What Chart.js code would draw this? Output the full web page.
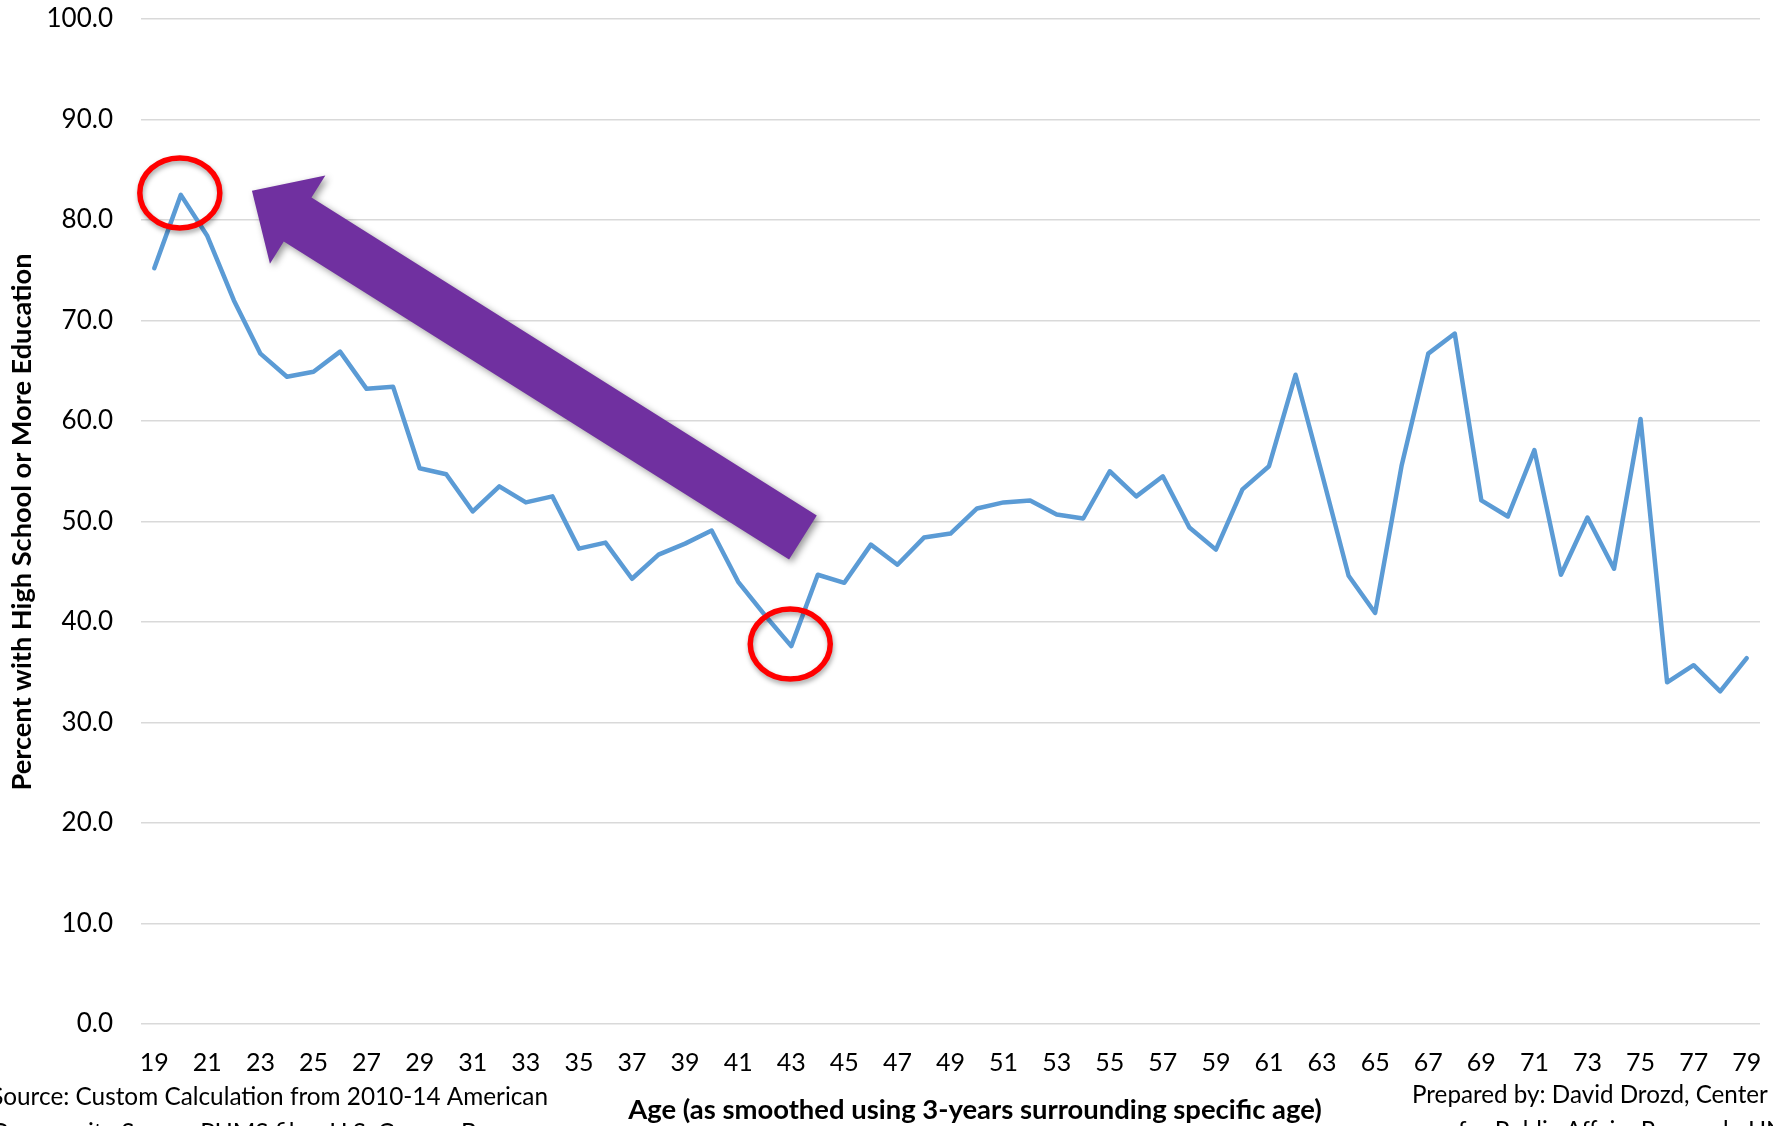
<!DOCTYPE html>
<html><head><meta charset="utf-8">
<script src="https://cdn.jsdelivr.net/npm/chart.js@4.4.1/dist/chart.umd.min.js"></script>
<style>html,body{margin:0;padding:0;background:#fff;overflow:hidden}#wrap{position:relative;width:1773px;height:1126px}</style>
</head><body><div id="wrap"><canvas id="c"></canvas></div>
<script>
// ---- data ----
const ages = [19,20,21,22,23,24,25,26,27,28,29,30,31,32,33,34,35,36,37,38,39,40,41,42,43,44,45,46,47,48,49,50,51,52,53,54,55,56,57,58,59,60,61,62,63,64,65,66,67,68,69,70,71,72,73,74,75,76,77,78,79];
const pctHighSchool = [75.2,82.5,78.4,72.0,66.7,64.4,64.9,66.9,63.2,63.4,55.3,54.7,51.0,53.5,51.9,52.5,47.3,47.9,44.3,46.7,47.8,49.1,44.0,40.7,37.6,44.7,43.9,47.7,45.7,48.4,48.8,51.3,51.9,52.1,50.7,50.3,55.0,52.5,54.5,49.4,47.2,53.2,55.5,64.6,54.7,44.6,40.9,55.6,66.7,68.7,52.1,50.5,57.1,44.7,50.4,45.3,60.2,34.0,35.7,33.1,36.4];
const xTickLabels = ["19","21","23","25","27","29","31","33","35","37","39","41","43","45","47","49","51","53","55","57","59","61","63","65","67","69","71","73","75","77","79"];
const yTickValues = [0,10,20,30,40,50,60,70,80,90,100];
const highlightAges = [20, 43];
const arrowTail = {age: 43.44, value: 48.4};
const arrowTip = {age: 22.68, value: 82.9};
const yTitle = "Percent with High School or More Education";
const xTitle = "Age (as smoothed using 3-years surrounding specific age)";
const sourceLines = ["Source: Custom Calculation from 2010-14 American", "Community Survey PUMS files, U.S. Census Bureau"];
const preparedLines = ["Prepared by: David Drozd, Center", "for Public Affairs Research, UNO"];

const FONT = "Lato, 'Open Sans', sans-serif";
const TXT = '#000000';

function fitSize(ctx, text, weight, target){
  ctx.font = weight + ' 100px ' + FONT;
  return 100 * target / ctx.measureText(text).width;
}

const overlay = {
  id: 'overlay',
  beforeDatasetsDraw(chart){
    const {ctx, scales:{x, y}} = chart;
    const tx = x.getPixelForValue(arrowTip.age - ages[0]), ty = y.getPixelForValue(arrowTip.value);
    const sx = x.getPixelForValue(arrowTail.age - ages[0]), sy = y.getPixelForValue(arrowTail.value);
    const dx = tx - sx, dy = ty - sy, len = Math.hypot(dx, dy);
    const ux = dx/len, uy = dy/len, nx = -uy, ny = ux;
    const sh = 26, hh = 52, hl = 54;
    const bx = tx - ux*hl, by = ty - uy*hl;
    ctx.save();
    ctx.shadowColor = 'rgba(0,0,0,0.4)';
    ctx.shadowBlur = 7; ctx.shadowOffsetX = 3; ctx.shadowOffsetY = 3;
    ctx.fillStyle = '#7030A0';
    ctx.beginPath();
    ctx.moveTo(sx + nx*sh, sy + ny*sh);
    ctx.lineTo(bx + nx*sh, by + ny*sh);
    ctx.lineTo(bx + nx*hh, by + ny*hh);
    ctx.lineTo(tx, ty);
    ctx.lineTo(bx - nx*hh, by - ny*hh);
    ctx.lineTo(bx - nx*sh, by - ny*sh);
    ctx.lineTo(sx - nx*sh, sy - ny*sh);
    ctx.closePath();
    ctx.fill();
    ctx.restore();
  },
  afterDatasetsDraw(chart){
    const {ctx, scales:{x, y}} = chart;
    ctx.save();
    ctx.shadowColor = 'rgba(0,0,0,0.35)';
    ctx.shadowBlur = 5; ctx.shadowOffsetX = 1; ctx.shadowOffsetY = 3;
    ctx.strokeStyle = '#FF0000';
    ctx.lineWidth = 5.5;
    highlightAges.forEach(a => {
      const i = ages.indexOf(a);
      const cx = x.getPixelForValue(i) - 1, cy = y.getPixelForValue(pctHighSchool[i]) - 2;
      ctx.beginPath();
      ctx.ellipse(cx, cy, 40, 35, 0, 0, Math.PI*2);
      ctx.stroke();
    });
    ctx.restore();
  },
  afterDraw(chart){
    const ctx = chart.ctx;
    ctx.save();
    ctx.fillStyle = TXT;
    // y title
    let s = fitSize(ctx, yTitle, 'bold', 537);
    ctx.font = 'bold ' + s + 'px ' + FONT;
    ctx.translate(22, 522);
    ctx.rotate(-Math.PI/2);
    ctx.textAlign = 'center'; ctx.textBaseline = 'middle';
    ctx.fillText(yTitle, 0, 0);
    ctx.setTransform(1,0,0,1,0,0);
    // x title
    s = fitSize(ctx, xTitle, 'bold', 694);
    ctx.font = 'bold ' + s + 'px ' + FONT;
    ctx.textAlign = 'center'; ctx.textBaseline = 'alphabetic';
    ctx.fillText(xTitle, 975, 1119);
    // source (left)
    s = fitSize(ctx, sourceLines[0].slice(1), 'normal', 545);
    ctx.font = 'normal ' + s + 'px ' + FONT;
    ctx.textAlign = 'right';
    ctx.fillText(sourceLines[0], 548, 1105);
    ctx.fillText(sourceLines[1], 537, 1141);
    // prepared (right)
    s = fitSize(ctx, preparedLines[0], 'normal', 356);
    ctx.font = 'normal ' + s + 'px ' + FONT;
    ctx.textAlign = 'left';
    ctx.fillText(preparedLines[0], 1412, 1103);
    ctx.fillText(preparedLines[1], 1458, 1139);
    ctx.restore();
  }
};

new Chart(document.getElementById('c'), {
  type: 'line',
  data: {
    labels: ages.map(String),
    datasets: [{
      data: pctHighSchool,
      borderColor: '#5B9BD5',
      borderWidth: 4.5,
      pointRadius: 0,
      tension: 0,
      fill: false,
      borderJoinStyle: 'round',
      borderCapStyle: 'round'
    }]
  },
  options: {
    responsive: true,
    maintainAspectRatio: false,
    animation: false,
    events: [],
    layout: {autoPadding: false, padding: {left: 0, top: 19, right: 13, bottom: 0}},
    plugins: {legend: {display: false}, tooltip: {enabled: false}},
    scales: {
      x: {
        type: 'category',
        offset: true,
        grid: {display: false, drawTicks: false},
        border: {display: false},
        ticks: {
          autoSkip: false, maxRotation: 0, minRotation: 0,
          padding: 24,
          color: TXT,
          font: {family: FONT, size: 25},
          callback: (v, i) => xTickLabels.includes(String(ages[i])) ? String(ages[i]) : ''
        },
        afterFit: s => { s.height = 102; s.paddingLeft = 0; s.paddingRight = 0; }
      },
      y: {
        min: 0, max: 100,
        afterBuildTicks: s => { s.ticks = yTickValues.map(v => ({value: v})); },
        grid: {color: '#D9D9D9', lineWidth: 1.5, drawTicks: false},
        border: {display: false},
        ticks: {
          padding: 28,
          color: TXT,
          font: {family: FONT, size: 26},
          callback: v => Number(v).toFixed(1)
        },
        afterFit: s => { s.width = 141; s.paddingTop = 0; s.paddingBottom = 0; }
      }
    }
  },
  plugins: [overlay]
});
</script>
</body></html>
